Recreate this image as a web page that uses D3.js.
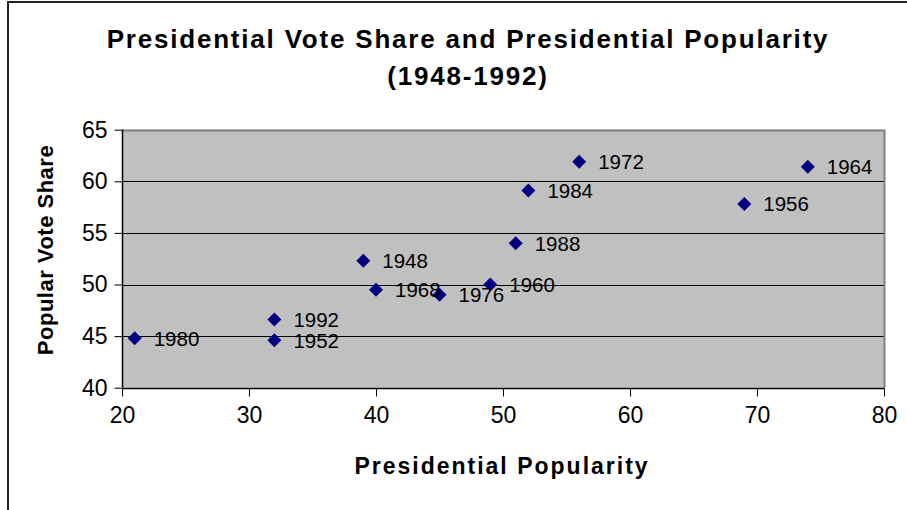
<!DOCTYPE html>
<html>
<head>
<meta charset="utf-8">
<script src="https://cdn.jsdelivr.net/npm/d3@7"></script>
<style>
  html, body { margin: 0; padding: 0; background: #fff; }
  svg { display: block; font-family: "Liberation Sans", Arial, sans-serif; }
</style>
</head>
<body>
<svg id="chart" width="907" height="510"></svg>
<script>
// Election years with presidential approval and the incumbent party's vote share
const years = [1948, 1952, 1956, 1960, 1964, 1968, 1972, 1976, 1980, 1984, 1988, 1992];
const popularity = [39, 32, 69, 49, 74, 40, 56, 45, 21, 52, 51, 32];
const voteShare = [52.3, 44.6, 57.8, 50.0, 61.4, 49.5, 61.9, 49.0, 44.8, 59.1, 54.0, 46.6];

const xTicks = [20, 30, 40, 50, 60, 70, 80];
const yTicks = [40, 45, 50, 55, 60, 65];

const titleLines = ["Presidential Vote Share and Presidential Popularity", "(1948-1992)"];
const xTitle = "Presidential Popularity";
const yTitle = "Popular Vote Share";

const svg = d3.select("#chart");

const plot = { left: 122, right: 884, top: 129.7, bottom: 387.7 };

const x = d3.scaleLinear().domain([20, 80]).range([plot.left, plot.right]);
const y = d3.scaleLinear().domain([40, 65]).range([plot.bottom, plot.top]);

// outer chart frame (left and top edges)
svg.append("path")
  .attr("d", `M8,510 L8,2 L907,2`)
  .attr("fill", "none")
  .attr("stroke", "#222")
  .attr("stroke-width", 2);

// plot area background
svg.append("rect")
  .attr("x", plot.left).attr("y", plot.top)
  .attr("width", plot.right - plot.left)
  .attr("height", plot.bottom - plot.top)
  .attr("fill", "#c0c0c0");

// horizontal gridlines
svg.append("g")
  .selectAll("line")
  .data(yTicks.filter(t => t > 40 && t < 65))
  .join("line")
  .attr("x1", plot.left).attr("x2", plot.right)
  .attr("y1", d => Math.round(y(d)) + 0.5).attr("y2", d => Math.round(y(d)) + 0.5)
  .attr("stroke", "#000").attr("stroke-width", 1);

// plot border on top and right
svg.append("path")
  .attr("d", `M${plot.left},${Math.round(plot.top) + 0.5} L${plot.right + 0.5},${Math.round(plot.top) + 0.5} L${plot.right + 0.5},${plot.bottom}`)
  .attr("fill", "none").attr("stroke", "#808080").attr("stroke-width", 2);

// axes
const xAxis = d3.axisBottom(x).tickValues(xTicks).tickSize(8).tickPadding(10).tickFormat(d3.format("d"));
const yAxis = d3.axisLeft(y).tickValues(yTicks).tickSize(8).tickPadding(7).tickFormat(d3.format("d"));

const gx = svg.append("g")
  .attr("transform", `translate(0,${Math.round(plot.bottom) + 0.5})`)
  .call(xAxis);
const gy = svg.append("g")
  .attr("transform", `translate(${plot.left + 0.5},0)`)
  .call(yAxis);

[gx, gy].forEach(g => {
  g.select(".domain").attr("stroke", "#000").attr("stroke-width", 1.5);
  g.selectAll(".tick line").attr("stroke", "#000");
  g.selectAll(".tick text")
    .attr("fill", "#000")
    .style("font-family", '"Liberation Sans", Arial, sans-serif')
    .style("font-size", "23px");
});
gx.select(".domain").attr("d", `M${plot.left},0H${plot.right + 0.5}`);
gy.select(".domain").attr("d", `M0,${plot.bottom}V${plot.top}`);
gx.selectAll(".tick text").attr("dy", "0.71em");

// data markers (diamonds)
const pts = years.map((yr, i) => ({ year: yr, px: popularity[i], vs: voteShare[i] }));
const diamond = d3.symbol().type(d3.symbolSquare).size(98);

svg.append("g")
  .selectAll("path")
  .data(pts)
  .join("path")
  .attr("d", diamond)
  .attr("transform", d => `translate(${x(d.px)},${y(d.vs)}) rotate(45)`)
  .attr("fill", "#000080");

// year labels next to each marker
svg.append("g")
  .selectAll("text")
  .data(pts)
  .join("text")
  .attr("x", d => x(d.px) + 19)
  .attr("y", d => y(d.vs))
  .attr("dy", "0.36em")
  .attr("fill", "#000")
  .style("font-size", "20.5px")
  .text(d => d.year);

// chart title
svg.append("text")
  .attr("x", 468).attr("y", 48)
  .attr("text-anchor", "middle")
  .style("font-weight", "bold").style("font-size", "26px").style("letter-spacing", "1.8px")
  .text(titleLines[0]);
svg.append("text")
  .attr("x", 468).attr("y", 85)
  .attr("text-anchor", "middle")
  .style("font-weight", "bold").style("font-size", "26px").style("letter-spacing", "1.8px")
  .text(titleLines[1]);

// axis titles
svg.append("text")
  .attr("x", 502).attr("y", 474)
  .attr("text-anchor", "middle")
  .style("font-weight", "bold").style("font-size", "23px").style("letter-spacing", "2px")
  .text(xTitle);

svg.append("text")
  .attr("transform", `translate(53,250) rotate(-90)`)
  .attr("text-anchor", "middle")
  .style("font-weight", "bold").style("font-size", "22px").style("letter-spacing", "0.5px")
  .text(yTitle);
</script>
</body>
</html>
